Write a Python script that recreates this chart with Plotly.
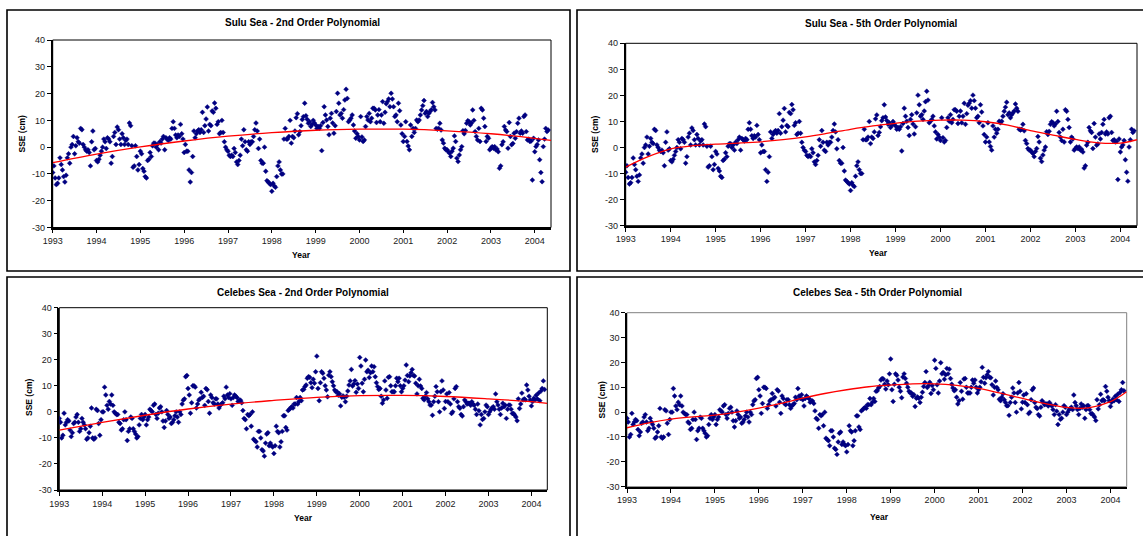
import plotly.graph_objects as go

W, H = 1143, 536

YEARS = list(range(1993, 2005))
X_TICKS = list(range(1993, 2005))
Y_TICKS = [-30, -20, -10, 0, 10, 20, 30, 40]

# Sea surface elevation anomalies (cm), ~10-day samples, one row per year
SULU_SSE = [
    [-9.5, -7, -11.5, -14, -13.5, -11.5, -4, -6.5, -8.5, -11, -13, -10.5, -4, -2.5, -6, 0, 1, 4, -2.5, 0.5, 3.5, 2, 1.5, 7, 6.5, 1, 0, -1, -1.5, -1, -2, -7, 2, 6, -1, -0.5],
    [-5, -5.5, -4.5, -3, -1.5, 0, 3, 2, -0.5, 3.5, 3, 2, -6, -3.5, 4, 5.5, 1, 7.5, 6.5, 3, 1, 5, 3.5, 1, 2.5, 3, 1, 9, 8, 0.5, -7.5, -7, 0.5, -3.5, -8.5, -6.5],
    [-1.5, -2.5, -8, -9, -11, -11.5, -5, -4.5, -2, -3.5, 0.5, 1.5, 1.5, 0, 1, -1, 2, 1.5, 3, 4, -1, 3.5, 3, 2.5, 3.5, 3, 7, 9.5, 7, 4.5, 3.5, 4.5, 4, 8.5, 5, 3],
    [-2, 1, -1.5, -1.5, -8.5, -13, -9.5, -3.5, 6, 3.5, 5, 6, 6.5, 5.5, 6.5, 13, 5.5, 8, 10.5, 15, 6, 8.5, 8, 13.5, 13, 16.5, 14.5, 8.5, 9.5, 5, 5.5, 10, 5.5, 2, 0, -1],
    [-1.5, -3, -3.5, -3, -3.5, -0.5, -2, -5.5, -6.5, -5, -3, 3, 0.5, 6.5, 2, -1, -1.5, 2, 1, 2, 2, 4, 6.5, 9, 6, -0.5, 3, -5, -6, -6, 0, -9, -12.5, -13, -13.5, -14],
    [-16.5, -13.5, -14.5, -15, -11, -7, -5.5, -8.5, -10, -10, 3, 7, 3, 3, 4, 10, 1.5, 4, 3.5, 6, 11, 12.5, 4.6, 5.8, 8.0, 10.3, 11.4, 16.4, 11.7, 10.4, 8.9, 9.5, 7.7, 8.5, 10, 9],
    [8.3, 7.0, 7.7, 7.0, 8, -1.3, 9.2, 15.1, 12, 10.1, 7.7, 4.6, 10.8, 12.6, 9, 5.2, 8, 13.3, 20.1, 16.4, 12.0, 12.6, 10.8, 14, 17.6, 21.6, 18.2, 9.5, 10.1, 10.8, 12, 8.3, 6, 3.3, 5, 4],
    [2.7, 11.4, 3.8, 2.1, 2.7, 7.7, 11.4, 10.1, 12.6, 9.5, 10.8, 14.5, 14.5, 13.9, 9.2, 12, 14, 9.5, 12, 17.0, 8.9, 13, 16.2, 17, 18, 15.1, 20.1, 18, 15.1, 11.4, 12, 9.5, 16.4, 13.6, 8.3, 5],
    [2.1, 4.0, 9.5, 2.1, 0.4, -1.0, 8.3, 4.0, 7.0, 5.5, 7.0, 10.1, 9.5, 10.1, 12.0, 13.9, 15.5, 17.4, 12.6, 13.3, 11.4, 12.6, 13.3, 14, 16.7, 15.1, 13.9, 7.0, 6.7, 7.0, 8.9, 6.4, 2.7, 1.5, -0.4, -1.0],
    [-1.0, -1.7, -2.3, -3.5, -1.5, -0.4, 4.2, 2.1, -4.1, -5.4, -2.9, -1, 0.2, 6.1, 5, 6.2, 8.9, 9.9, 9.5, 8.3, 9, 13.9, 10, 5.8, 4, 2.7, 7.0, 2.1, 14.5, 13.9, 10.8, 7.7, 2.1, 4, 3.3, -1.0],
    [-0.4, 0.2, -0.4, 0.2, -1, -0.7, -1.7, -7.9, -7.0, 0.9, 2, 7.7, 6.4, 5.8, -0.4, 9.2, 4, 0.9, 1.4, 5.2, 3.3, 5.8, 8.9, 10.8, 5.2, 6, 5.2, 11.4, 12.0, 5.8, 2.7, 3, 2.1, 2.3, -12.3, 3.3],
    [-1.7, 0.2, 1, 2.7, -4.7, -9.5, -12.9, 0.2, 3, 7.0, 5.8, 6.4],
]

CELEBES_SSE = [
    [-2.5, -4, -10, -9, -0.5, -5, -4, -3, -3.5, -7, -9.5, -8, -4.5, -4, -2, -1, -4, -7.5, -6.5, -2.5, -4, -5, -6.5, -10.5, -10, -8, -5.5, 1.5, -10, -10.5, -10, 1, 0.5, -4.5, -9, -3],
    [0, 0, 9.5, 6.5, 2.5, 1, 4, 3, 6.5, 2.5, 0, -0.5, -1, -1, -4, -4.5, -7, -6.5, -3, 0, -3, -11, -7.5, -6.5, -2, -2.5, -6.5, -7.5, -8.5, -10, -9.5, -5, -2.5, -1, -3, -2],
    [-1, -5, -3, -2, 1, 0.5, 0, 2.5, 3, -1, -2.5, -0.5, 1.5, 2, 0, -3.5, -6, -3.5, 0.5, -1, -2.5, -2, -4.5, -4, -3, -1.5, 0, -2, -4, 0, -1, 3, 4.5, 5, 13.5, 14],
    [9, 6.5, -0.5, 3.5, 10, 10, 9.5, 1.5, 3, 4.5, 5, 7.5, 5.5, 6, 2.5, 9, 8.5, 4, -0.5, 6.5, 5.5, 3.5, 3, 5, 5, 3, 1.5, 2.5, 3, 3.5, 6, 5, 9.5, 6.5, 5.5, 7],
    [5, 2.5, 5.5, 6.5, 6, 5.5, 4, 4.5, 4.5, 3.5, 0.5, -2.5, -3, -6.5, -1, -1.5, -1, -5.5, 0, -10.5, -11, -11.5, -13.5, -7.5, -7.5, -10, -14.5, -15, -17, -12, -8.5, -8, -13, -12, -13, -13.5],
    [-16, -13, -5.5, -7.5, -8, -13.5, -11.5, -7.5, -1.5, -1.5, -6, -7, 0.5, 1, 1.5, 2, 1.5, 3, 3, 5.5, 3, 4, 5.5, 4.3, 8.4, 8.6, 9.7, 10.3, 12.9, 13.5, 13.3, 11.2, 9.3, 12.5, 11, 15.4],
    [21.4, 9.0, 4.3, 11.2, 15.4, 14.8, 12.9, 10, 8.4, 5.8, 14.1, 15.4, 13.5, 11.6, 10, 8.4, 7.7, 7.7, 6.4, 7, 2.3, 5.6, 6.1, 5.6, 3.9, 6, 8, 10.3, 11.9, 16.3, 9.9, 10.7, 12, 7.5, 10.7, 9],
    [20.9, 17.6, 11.0, 7.7, 12.5, 19.9, 15.4, 16.0, 13.2, 15, 17.6, 15.4, 17.3, 13.5, 11.2, 9.7, 8.6, 9.0, 6, 3.3, 4.6, 11.9, 8.4, 5.2, 13.3, 13.5, 10, 7.7, 7.7, 7.7, 10, 12.9, 11.6, 12.9, 10, 7.7],
    [9, 10, 12.2, 18.0, 14, 11.6, 13.8, 15, 16.3, 14, 13.8, 11.0, 6.9, 10, 12.5, 9.9, 9.0, 5.2, 4.6, 6, 7.4, 5, 3.9, 2.6, 2.6, -1.3, 3.9, 6, 9.7, 7.7, 3.9, 0, 7.7, 11.9, 8.4, 1.3],
    [4, 6.9, 3.9, 7.4, 3, -0.6, 0, 5, 9.0, 9.7, 3.9, 2, 1.4, -1.0, -1.6, 2.0, 4.6, 3.9, 3, 3.3, 3.3, 2.5, 3.9, 3, 2.5, 1, -1.0, 3.0, 0.4, -5.0, -1, -2.9, -2.5, 0, 2.6, 2.0],
    [-1.0, 0, 0.9, 1.5, 2.0, 1, 6.9, 3.9, 2.6, 1, -1.0, 1.5, 3.3, 2, 2.6, -2.5, 1, 2.6, 2.6, 1, -0.6, -0.6, -1.3, -2, -3.4, 5.0, 1.3, 3, 7.2, 4.6, 5, 4.6, 10.3, 8.4, 6, 4.6],
    [2.3, 4, 5.2, 4.6, 6.4, 5, 7.2, 4.3, 8, 9.0, 11.9, 8.6],
]

# Fitted trend curves
SULU_FIT2_X = [1993, 1994, 1995, 1996, 1997, 1998, 1999, 2000, 2001, 2002, 2003, 2004, 2004.37]
SULU_FIT2_Y = [-5.8, -2.6, 0.1, 2.3, 4.1, 5.4, 6.3, 6.7, 6.7, 6.1, 5.0, 3.3, 2.5]

SULU_FIT5_X = [1993, 1993.5, 1994, 1994.5, 1995, 1995.5, 1996, 1996.5, 1997, 1997.5, 1998, 1998.5,
               1999, 1999.5, 2000, 2000.5, 2001, 2001.5, 2002, 2002.5, 2003, 2003.5, 2004, 2004.37]
SULU_FIT5_Y = [-7.5, -3.5, -0.5, 0.7, 1.3, 1.7, 2.2, 3.0, 4.1, 5.5, 7.0, 8.3,
               9.3, 10.1, 10.5, 10.5, 9.9, 8.6, 6.5, 4.8, 3.1, 1.8, 1.7, 3.0]

CELEBES_FIT2_X = [1993, 1994, 1995, 1996, 1997, 1998, 1999, 2000, 2001, 2002, 2003, 2004, 2004.37]
CELEBES_FIT2_Y = [-7.0, -4.0, -1.3, 1.1, 3.0, 4.4, 5.6, 6.2, 6.3, 5.9, 5.0, 3.9, 3.3]

CELEBES_FIT5_X = [1993, 1993.5, 1994, 1994.5, 1995, 1995.5, 1996, 1996.5, 1997, 1997.5, 1998, 1998.5,
                  1999, 1999.5, 2000, 2000.5, 2001, 2001.5, 2002, 2002.5, 2003, 2003.5, 2004, 2004.37]
CELEBES_FIT5_Y = [-6.3, -4.3, -2.8, -1.9, -1.2, 0.0, 1.6, 3.5, 5.6, 7.5, 9.0, 10.2,
                  10.9, 11.4, 11.4, 10.8, 9.6, 7.6, 5.5, 3.5, 1.9, 1.7, 4.2, 8.2]

TITLES = ["Sulu Sea - 2nd Order Polynomial", "Sulu Sea - 5th Order Polynomial",
          "Celebes Sea - 2nd Order Polynomial", "Celebes Sea - 5th Order Polynomial"]


def sample_times(rows):
    t = []
    for year, row in zip(YEARS, rows):
        for k in range(len(row)):
            t.append(year + k / 36.0)
    return t


def flat(rows):
    return [v for row in rows for v in row]


FONT = "Liberation Sans, Arial, Helvetica, sans-serif"
NAVY = "#000080"

# pixel layout of each panel: plot area (x0, x1, ytop, ybottom), box, title/label positions
panels = [
    dict(rows=SULU_SSE, fx=SULU_FIT2_X, fy=SULU_FIT2_Y, title=TITLES[0],
         plot=(52.7, 551, 40, 227.5), box=(7, 570, 10, 271),
         tpos=(302, 23), ypos=(21.5, 134), xpos=(301, 255), border="#000000"),
    dict(rows=SULU_SSE, fx=SULU_FIT5_X, fy=SULU_FIT5_Y, title=TITLES[1],
         plot=(625.7, 1137, 43.3, 225.7), box=(577, 1146, 10, 271),
         tpos=(881, 23.5), ypos=(595, 135), xpos=(878, 253), border="#000000"),
    dict(rows=CELEBES_SSE, fx=CELEBES_FIT2_X, fy=CELEBES_FIT2_Y, title=TITLES[2],
         plot=(59.3, 547.3, 307.7, 490), box=(7, 570, 277, 545),
         tpos=(303, 292), ypos=(29, 398), xpos=(303, 518), border="#000000"),
    dict(rows=CELEBES_SSE, fx=CELEBES_FIT5_X, fy=CELEBES_FIT5_Y, title=TITLES[3],
         plot=(627, 1126.7, 312.7, 486.7), box=(577, 1146, 277, 545),
         tpos=(877, 292.5), ypos=(601.5, 400), xpos=(879, 517), border="#808080"),
]

fig = go.Figure()
layout = dict(width=W, height=H, margin=dict(l=0, r=0, t=0, b=0, pad=0),
              paper_bgcolor="white", plot_bgcolor="white", showlegend=False,
              font=dict(family=FONT, color="#000000"))
shapes = []
annotations = []

for i, p in enumerate(panels):
    n = i + 1
    xa = "x" if n == 1 else f"x{n}"
    ya = "y" if n == 1 else f"y{n}"
    xk = "xaxis" if n == 1 else f"xaxis{n}"
    yk = "yaxis" if n == 1 else f"yaxis{n}"
    x0, x1, yt, yb = p["plot"]

    fig.add_trace(go.Scatter(x=sample_times(p["rows"]), y=flat(p["rows"]), mode="markers",
                             marker=dict(symbol="diamond", size=3.8, color=NAVY, line=dict(width=0.4, color=NAVY)),
                             xaxis=xa, yaxis=ya, hoverinfo="skip"))
    fig.add_trace(go.Scatter(x=p["fx"], y=p["fy"], mode="lines",
                             line=dict(color="#FF0000", width=1.3, shape="spline"),
                             xaxis=xa, yaxis=ya, hoverinfo="skip"))

    common = dict(showgrid=False, zeroline=False, showline=True, linecolor="#000000",
                  linewidth=1.6, ticks="outside", ticklen=4, tickwidth=1, tickcolor="#000000",
                  tickfont=dict(family=FONT, size=9, color="#1a1a1a"), automargin=False)
    layout[xk] = dict(common, domain=[x0 / W, x1 / W], range=[1993, 2004.37],
                      tickvals=X_TICKS, ticktext=[str(v) for v in X_TICKS],
                      anchor=ya)
    layout[yk] = dict(common, domain=[1 - yb / H, 1 - yt / H], range=[-30, 40],
                      tickvals=Y_TICKS, ticktext=[str(v) for v in Y_TICKS],
                      anchor=xa)

    # plot-area border (top/right)
    shapes.append(dict(type="rect", xref=f"{xa} domain", yref=f"{ya} domain",
                       x0=0, x1=1, y0=0, y1=1, line=dict(color=p["border"], width=1),
                       fillcolor="rgba(0,0,0,0)", layer="below"))
    # panel frame
    bx0, bx1, byt, byb = p["box"]
    shapes.append(dict(type="rect", xref="paper", yref="paper",
                       x0=bx0 / W, x1=bx1 / W, y0=1 - byb / H, y1=1 - byt / H,
                       line=dict(color="#000000", width=1.6), fillcolor="rgba(0,0,0,0)"))

    tx, ty = p["tpos"]
    annotations.append(dict(text=f"<b>{p['title']}</b>", x=tx / W, y=1 - ty / H, xref="paper",
                            yref="paper", showarrow=False, xanchor="center", yanchor="middle",
                            font=dict(family=FONT, size=10, color="#000000")))
    yx, yy = p["ypos"]
    annotations.append(dict(text="<b>SSE (cm)</b>", x=yx / W, y=1 - yy / H, xref="paper",
                            yref="paper", showarrow=False, textangle=-90, xanchor="center",
                            yanchor="middle", font=dict(family=FONT, size=8.5, color="#000000")))
    xx, xy = p["xpos"]
    annotations.append(dict(text="<b>Year</b>", x=xx / W, y=1 - xy / H, xref="paper",
                            yref="paper", showarrow=False, xanchor="center", yanchor="middle",
                            font=dict(family=FONT, size=8.5, color="#000000")))

layout["shapes"] = shapes
layout["annotations"] = annotations
fig.update_layout(**layout)

fig.write_html("out.html", config={"displayModeBar": False})

# remove the default page margin so the figure sits at the window origin
with open("out.html", "r", encoding="utf-8") as f:
    html = f.read()
html = html.replace("<head>", "<head><style>html,body{margin:0;padding:0;overflow:hidden;}</style>", 1)
with open("out.html", "w", encoding="utf-8") as f:
    f.write(html)
